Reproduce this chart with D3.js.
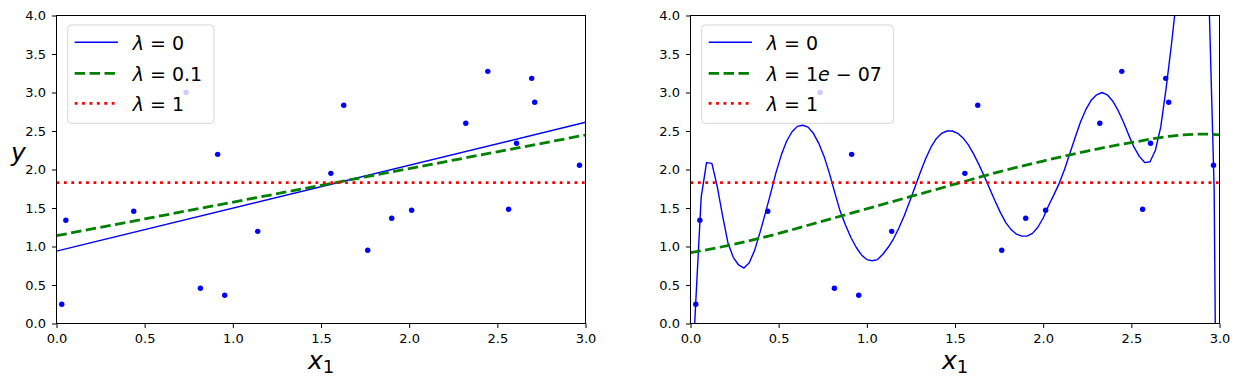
<!DOCTYPE html>
<html><head><meta charset="utf-8">
<script src="https://cdn.jsdelivr.net/npm/d3@7"></script>
<style>body{margin:0;background:#fff} svg text{font-family:"DejaVu Sans",sans-serif}</style>
</head><body><svg id="c" width="1239" height="386"></svg>
<script>
// ---- data ----
const pointsX = [0.030, 0.053, 0.438, 0.816, 0.954, 1.141, 0.735, 0.914, 1.629, 1.556, 2.321, 2.446, 2.695, 2.712, 2.609, 2.966, 1.765, 1.901, 2.014, 2.564];
const pointsY = [0.25, 1.34, 1.457, 0.457, 0.366, 1.197, 3.00, 2.197, 2.834, 1.95, 2.60, 3.275, 3.184, 2.873, 2.34, 2.055, 0.951, 1.366, 1.47, 1.483];

const xTicks = [0, 0.5, 1.0, 1.5, 2.0, 2.5, 3.0];
const yTicks = [0, 0.5, 1.0, 1.5, 2.0, 2.5, 3.0, 3.5, 4.0];

// left panel (linear model)
const leftLineX = [0, 3];
const leftLambda0Y = [0.94, 2.613];
const leftLambdaMidY = [1.14, 2.448];
const meanLineX = [0, 3];
const meanLineY = [1.83, 1.83];

// right panel (polynomial model)
const rightLambda0X = [0.0000,0.0303,0.0606,0.0909,0.1212,0.1515,0.1818,0.2121,0.2424,0.2727,0.3030,0.3333,0.3636,0.3939,0.4242,0.4545,0.4848,0.5152,0.5455,0.5758,0.6061,0.6364,0.6667,0.6970,0.7273,0.7576,0.7879,0.8182,0.8485,0.8788,0.9091,0.9394,0.9697,1.0000,1.0303,1.0606,1.0909,1.1212,1.1515,1.1818,1.2121,1.2424,1.2727,1.3030,1.3333,1.3636,1.3939,1.4242,1.4545,1.4848,1.5152,1.5455,1.5758,1.6061,1.6364,1.6667,1.6970,1.7273,1.7576,1.7879,1.8182,1.8485,1.8788,1.9091,1.9394,1.9697,2.0000,2.0303,2.0606,2.0909,2.1212,2.1515,2.1818,2.2121,2.2424,2.2727,2.3030,2.3333,2.3636,2.3939,2.4242,2.4545,2.4848,2.5152,2.5455,2.5758,2.6061,2.6364,2.6667,2.6970,2.7273,2.7576,2.7879,2.8182,2.8485,2.8788,2.9091,2.9394,2.9697,3.0000];
const rightLambda0Y = [-1.10,0.30,1.64,2.09,2.08,1.78,1.40,1.05,0.86,0.76,0.72,0.79,0.95,1.18,1.43,1.69,1.96,2.19,2.37,2.49,2.56,2.575,2.55,2.47,2.34,2.17,1.95,1.70,1.46,1.28,1.12,0.99,0.89,0.83,0.815,0.83,0.90,0.99,1.10,1.24,1.40,1.58,1.77,1.96,2.14,2.29,2.40,2.47,2.50,2.50,2.47,2.41,2.32,2.20,2.06,1.91,1.75,1.59,1.44,1.31,1.22,1.16,1.135,1.135,1.17,1.25,1.37,1.53,1.67,1.82,2.00,2.21,2.42,2.62,2.78,2.90,2.97,3.00,2.97,2.89,2.77,2.62,2.45,2.29,2.17,2.09,2.10,2.25,2.55,3.05,3.62,4.25,4.9,5.4,5.7,5.7,5.3,4.3,1.74,-6.6];
const rightLambdaMidX = [0, 0.25, 0.5, 0.75, 1.0, 1.25, 1.5, 1.75, 2.0, 2.25, 2.5, 2.75, 2.9, 3.0];
const rightLambdaMidY = [0.92, 1.03, 1.17, 1.33, 1.49, 1.65, 1.81, 1.97, 2.11, 2.24, 2.35, 2.44, 2.46, 2.45];

const leftLegendLabels = [["λ", " = 0"], ["λ", " = 0.1"], ["λ", " = 1"]];
const rightLegendLabels = [["λ", " = 0"], ["λ", " = 1", "e", " − 07"], ["λ", " = 1"]];

// ---- drawing ----
const svg = d3.select("#c");
svg.append("rect").attr("width", 1239).attr("height", 386).attr("fill", "#fff");

const styles = [
  {color: "#0000ff", width: 1.4, dash: null},
  {color: "#008000", width: 2.8, dash: "10.4,4.5"},
  {color: "#ff0000", width: 2.8, dash: "2.8,4.6"}
];

const panels = [
  {x0: 56.5, x1: 585.5, id: "L",
   series: [d3.zip(leftLineX, leftLambda0Y), d3.zip(leftLineX, leftLambdaMidY), d3.zip(meanLineX, meanLineY)],
   curves: [d3.curveLinear, d3.curveLinear, d3.curveLinear],
   legend: leftLegendLabels, legendW: 146.3, ylabel: true},
  {x0: 690.5, x1: 1219.5, id: "R",
   series: [d3.zip(rightLambda0X, rightLambda0Y), d3.zip(rightLambdaMidX, rightLambdaMidY), d3.zip(meanLineX, meanLineY)],
   curves: [d3.curveLinear, d3.curveMonotoneX, d3.curveLinear],
   legend: rightLegendLabels, legendW: 191.6, ylabel: false}
];

const yTop = 15.5, yBot = 323.5;
const y = d3.scaleLinear().domain([0, 4]).range([yBot, yTop]);

panels.forEach(p => {
  const x = d3.scaleLinear().domain([0, 3]).range([p.x0, p.x1]);
  const g = svg.append("g");

  g.append("clipPath").attr("id", "clip" + p.id)
    .append("rect").attr("x", p.x0).attr("y", yTop).attr("width", p.x1 - p.x0).attr("height", yBot - yTop);

  const plot = g.append("g").attr("clip-path", `url(#clip${p.id})`);
  p.series.forEach((s, i) => {
    const st = styles[i];
    const line = d3.line().x(d => x(d[0])).y(d => y(d[1])).curve(p.curves[i]);
    plot.append("path").datum(s).attr("d", line)
      .attr("fill", "none").attr("stroke", st.color).attr("stroke-width", st.width)
      .attr("stroke-dasharray", st.dash).attr("stroke-linejoin", "round");
  });
  plot.selectAll("circle").data(d3.zip(pointsX, pointsY)).join("circle")
    .attr("cx", d => x(d[0])).attr("cy", d => y(d[1])).attr("r", 2.7).attr("fill", "#0000ff");

  // axes
  const ax = g.append("g").attr("transform", `translate(0,${yBot})`)
    .call(d3.axisBottom(x).tickValues(xTicks).tickFormat(d3.format(".1f")).tickSize(4.5).tickPadding(5.5));
  const ay = g.append("g").attr("transform", `translate(${p.x0},0)`)
    .call(d3.axisLeft(y).tickValues(yTicks).tickFormat(d3.format(".1f")).tickSize(4.5).tickPadding(6));
  [ax, ay].forEach(a => {
    a.select(".domain").remove();
    a.attr("font-family", null).attr("font-size", null);
    a.selectAll("text").attr("font-size", 13).attr("fill", "#000");
    a.selectAll("line").attr("stroke", "#000").attr("stroke-width", 1);
  });

  g.append("rect").attr("x", p.x0).attr("y", yTop).attr("width", p.x1 - p.x0).attr("height", yBot - yTop)
    .attr("fill", "none").attr("stroke", "#000").attr("stroke-width", 1);

  // x label
  const xl = g.append("text").attr("x", (p.x0 + p.x1) / 2).attr("y", 368.5)
    .attr("text-anchor", "middle").attr("font-size", 25);
  xl.append("tspan").attr("font-style", "italic").text("x");
  xl.append("tspan").attr("font-size", 18).attr("dy", 4).text("1");

  if (p.ylabel) {
    g.append("text").attr("x", 18.5).attr("y", 161).attr("text-anchor", "middle")
      .attr("font-size", 25).attr("font-style", "italic").text("y");
  }

  // legend
  const lg = g.append("g").attr("transform", `translate(${p.x0 + 11.2},25)`);
  lg.append("rect").attr("width", p.legendW).attr("height", 98.3).attr("rx", 3.5)
    .attr("fill", "#fff").attr("fill-opacity", 0.8)
    .attr("stroke", "#cccccc").attr("stroke-opacity", 0.8).attr("stroke-width", 1);
  const rows = [17.3, 48.3, 78.3];
  p.legend.forEach((parts, i) => {
    const st = styles[i];
    lg.append("line").attr("x1", 7).attr("x2", 50.3).attr("y1", rows[i]).attr("y2", rows[i])
      .attr("stroke", st.color).attr("stroke-width", st.width).attr("stroke-dasharray", st.dash);
    const t = lg.append("text").attr("x", 65).attr("y", rows[i] + 7.5).attr("font-size", 19).attr("fill", "#000")
      .attr("xml:space", "preserve").style("white-space", "pre");
    parts.forEach((s, k) => {
      t.append("tspan").attr("font-style", (s === "λ" || s === "e") ? "italic" : null).text(s);
    });
  });
});
</script></body></html>
